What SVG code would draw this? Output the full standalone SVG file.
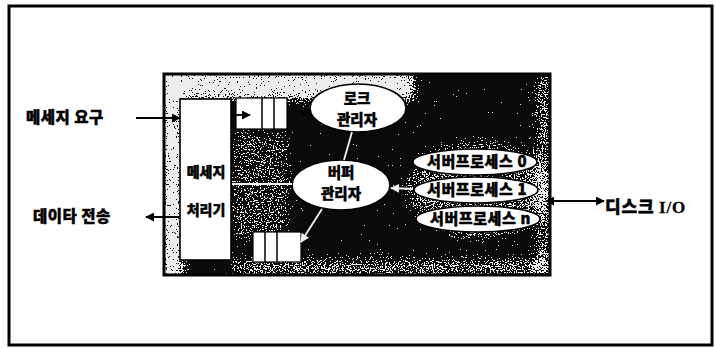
<svg xmlns="http://www.w3.org/2000/svg" width="715" height="348" viewBox="0 0 715 348">
<defs>
<style>
.lbl{font-family:"Noto Sans CJK KR","Noto Sans",sans-serif;font-weight:900;fill:#000;stroke:#000;stroke-width:0.45}
.node{fill:#fff;stroke:#000;stroke-width:1.6}
.q{fill:#fff;stroke:#000;stroke-width:1.2}
.dk{stroke:#000;stroke-width:1.8;fill:none}
.lt{stroke:#f2f2f2;stroke-width:1.8;fill:none}
</style>
<marker id="ahd" viewBox="0 0 10 10" refX="9" refY="5" markerWidth="5" markerHeight="5" orient="auto-start-reverse"><path d="M0,0 L10,5 L0,10 z" fill="#000"/></marker>
<marker id="ahl" viewBox="0 0 10 10" refX="9" refY="5" markerWidth="5" markerHeight="5" orient="auto-start-reverse"><path d="M0,0 L10,5 L0,10 z" fill="#f2f2f2"/></marker>
<filter id="speck" x="0" y="0" width="1" height="1" filterUnits="objectBoundingBox">
<feGaussianBlur in="SourceGraphic" stdDeviation="6" result="d"/>
<feTurbulence type="fractalNoise" baseFrequency="0.75" numOctaves="2" seed="5" result="t"/>
<feColorMatrix in="t" type="matrix" values="0 0 0 0 0  0 0 0 0 0  0 0 0 0 0  1 0 0 0 0" result="n"/>
<feComposite in="n" in2="d" operator="arithmetic" k1="0" k2="1" k3="0.7" k4="-0.25" result="s"/>
<feComponentTransfer in="s">
<feFuncR type="linear" slope="0" intercept="0.85"/>
<feFuncG type="linear" slope="0" intercept="0.85"/>
<feFuncB type="linear" slope="0" intercept="0.85"/>
<feFuncA type="discrete" tableValues="0 0 0 0 1 1"/>
</feComponentTransfer>
</filter>
<clipPath id="boxclip"><rect x="164" y="74" width="386" height="201"/></clipPath>
</defs>

<rect x="0" y="0" width="715" height="348" fill="#fff"/>
<rect id="frame" x="9" y="6" width="703" height="339" fill="none" stroke="#000" stroke-width="3"/>

<g id="system">
<rect x="164" y="74" width="386" height="201" fill="#0a0a0a"/>
<g clip-path="url(#boxclip)">
<g filter="url(#speck)">
<rect x="164" y="74" width="386" height="201" fill="#000" fill-opacity="0.15"/>
<rect x="160" y="70" width="24" height="210" fill="#000" fill-opacity="0.9"/>
<rect x="160" y="70" width="255" height="30" fill="#000" fill-opacity="0.9"/>
<rect x="230" y="130" width="60" height="110" fill="#000" fill-opacity="0.35"/>
<ellipse cx="478" cy="190" rx="72" ry="50" fill="#000" fill-opacity="0.45"/>
<rect x="230" y="258" width="320" height="22" fill="#000" fill-opacity="0.5"/>
<rect x="535" y="74" width="20" height="201" fill="#000" fill-opacity="0.5"/>
</g>
</g>
<rect x="164" y="74" width="386" height="201" fill="none" stroke="#000" stroke-width="3"/>
</g>

<g id="msgproc">
<rect class="node" x="180" y="99" width="51" height="161"/>
<text class="lbl" x="206" y="177" font-size="14" text-anchor="middle">메세지</text>
<text class="lbl" x="206" y="215" font-size="14" text-anchor="middle">처리기</text>
</g>

<g id="queue-in">
<rect class="q" x="236" y="98" width="51" height="31"/>
<line x1="262" y1="98" x2="262" y2="129" stroke="#000" stroke-width="1.5"/>
<line x1="274" y1="98" x2="274" y2="129" stroke="#000" stroke-width="1.5"/>
</g>

<g id="queue-out">
<rect class="q" x="253" y="232" width="48" height="30"/>
<line x1="265" y1="232" x2="265" y2="262" stroke="#000" stroke-width="1.5"/>
<line x1="277" y1="232" x2="277" y2="262" stroke="#000" stroke-width="1.5"/>
</g>

<g id="lockmgr">
<ellipse class="node" cx="358" cy="108" rx="48" ry="24"/>
<text class="lbl" x="357" y="104" font-size="14.5" text-anchor="middle">로크</text>
<text class="lbl" x="357" y="125" font-size="14.5" text-anchor="middle">관리자</text>
</g>

<g id="bufmgr">
<ellipse class="node" cx="341" cy="185" rx="49" ry="25"/>
<text class="lbl" x="341" y="178" font-size="14.5" text-anchor="middle">버퍼</text>
<text class="lbl" x="341" y="199" font-size="14.5" text-anchor="middle">관리자</text>
</g>

<g id="server0">
<ellipse class="node" cx="475" cy="162" rx="62" ry="13"/>
<text class="lbl" x="427" y="167" font-size="15" letter-spacing="0.6">서버프로세스 0</text>
</g>
<g id="server1">
<ellipse class="node" cx="476" cy="190" rx="62" ry="13"/>
<text class="lbl" x="427" y="195" font-size="15" letter-spacing="0.6">서버프로세스 1</text>
</g>
<g id="servern">
<ellipse class="node" cx="478" cy="219" rx="62" ry="13"/>
<text class="lbl" x="430" y="224" font-size="15" letter-spacing="0.6">서버프로세스 n</text>
</g>

<g id="connectors">
<line class="dk" x1="136" y1="118" x2="180" y2="118" marker-end="url(#ahd)"/>
<line class="dk" x1="180" y1="217" x2="146" y2="217" marker-end="url(#ahd)"/>
<line class="dk" x1="232" y1="115" x2="250" y2="115" marker-end="url(#ahd)"/>
<line class="dk" x1="288" y1="111" x2="310" y2="111" marker-end="url(#ahd)"/>
<line class="lt" x1="352" y1="132" x2="344" y2="160"/>
<line class="lt" x1="232" y1="184" x2="292" y2="184" stroke-width="1.2"/>
<line class="lt" x1="322" y1="209" x2="301" y2="242" stroke-width="2.2" marker-end="url(#ahl)"/>
<line class="lt" x1="413" y1="189" x2="391" y2="188" marker-end="url(#ahl)"/>
<line class="dk" x1="546" y1="201" x2="604" y2="201" stroke-width="3" marker-start="url(#ahd)" marker-end="url(#ahd)"/>
</g>

<g id="labels">
<text class="lbl" x="26" y="123" font-size="15.5" letter-spacing="0.5">메세지 요구</text>
<text class="lbl" x="33" y="222" font-size="15.5" letter-spacing="0.5">데이타 전송</text>
<text class="lbl" x="605" y="213" font-size="17" letter-spacing="0.8">디스크 <tspan font-family="'Liberation Serif',serif" stroke-width="0.3">I/O</tspan></text>
</g>
</svg>
